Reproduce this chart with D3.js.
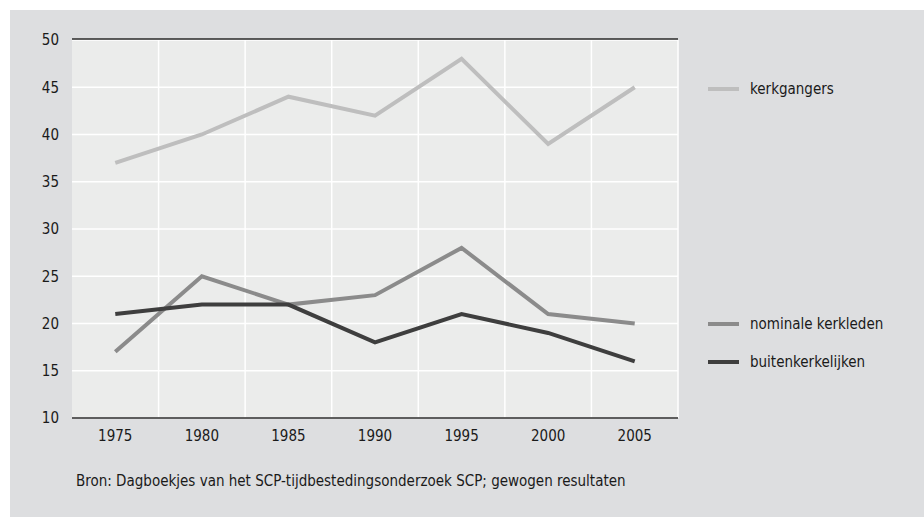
<!doctype html>
<html>
<head>
  <meta charset="UTF-8">
  <title>Kerkgangers</title>
  <script src="https://d3js.org/d3.v7.min.js"></script>
  <style>
    body { margin: 0; background: #ffffff; }
    text { font-family: "Liberation Sans Narrow", "DejaVu Sans Condensed", "Liberation Sans", sans-serif; fill: #1a1a1a; }
  </style>
</head>
<body>
  <div id="svg_area"></div>
</body>
</html>
<script>
// data
var years = ["1975", "1980", "1985", "1990", "1995", "2000", "2005"];
var kerkgangers = [37, 40, 44, 42, 48, 39, 45];
var nominaleKerkleden = [17, 25, 22, 23, 28, 21, 20];
var buitenkerkelijken = [21, 22, 22, 18, 21, 19, 16];
var seriesNames = ["kerkgangers", "nominale kerkleden", "buitenkerkelijken"];
var yTicks = [10, 15, 20, 25, 30, 35, 40, 45, 50];
var bron = "Bron: Dagboekjes van het SCP-tijdbestedingsonderzoek SCP; gewogen resultaten";

var series = [
  { name: seriesNames[0], values: kerkgangers, colour: "#bebebe" },
  { name: seriesNames[1], values: nominaleKerkleden, colour: "#8b8b8b" },
  { name: seriesNames[2], values: buitenkerkelijken, colour: "#3e3e3e" }
];

var svg = d3.select("#svg_area").append("svg")
    .attr("width", 924)
    .attr("height", 517);

// grey panel
svg.append("rect")
    .attr("x", 10).attr("y", 10)
    .attr("width", 914).attr("height", 507)
    .attr("fill", "#dddee0");

var plotLeft = 72, plotRight = 678, plotTop = 40, plotBottom = 418;

var xScale = d3.scaleBand().domain(years).range([plotLeft, plotRight]);
var yScale = d3.scaleLinear().domain([10, 50]).range([plotBottom, plotTop]);

// plot area
svg.append("rect")
    .attr("x", plotLeft).attr("y", plotTop)
    .attr("width", plotRight - plotLeft).attr("height", plotBottom - plotTop)
    .attr("fill", "#ebeceb");

// horizontal gridlines
svg.append("g").selectAll("line")
    .data(yTicks)
    .enter().append("line")
    .attr("x1", plotLeft).attr("x2", plotRight)
    .attr("y1", function(d){ return yScale(d); })
    .attr("y2", function(d){ return yScale(d); })
    .attr("stroke", "#ffffff")
    .attr("stroke-width", 1.5);

// vertical gridlines between years
var bounds = years.slice(1).map(function(y){ return xScale(y); }).concat([plotRight]);
svg.append("g").selectAll("line")
    .data(bounds)
    .enter().append("line")
    .attr("x1", function(d){ return d; }).attr("x2", function(d){ return d; })
    .attr("y1", plotTop).attr("y2", plotBottom)
    .attr("stroke", "#ffffff")
    .attr("stroke-width", 1.5);

// top and bottom black lines
svg.append("line")
    .attr("x1", plotLeft).attr("x2", plotRight)
    .attr("y1", plotTop - 1).attr("y2", plotTop - 1)
    .attr("stroke", "#2a2a2a").attr("stroke-width", 1.5);
svg.append("line")
    .attr("x1", plotLeft).attr("x2", plotRight)
    .attr("y1", plotBottom).attr("y2", plotBottom)
    .attr("stroke", "#2a2a2a").attr("stroke-width", 1.5);

// y axis labels
var yAxis = d3.axisLeft(yScale).tickValues(yTicks).tickSize(0).tickPadding(0);
var yg = svg.append("g")
    .attr("transform", "translate(" + (plotLeft - 13) + ",0)")
    .call(yAxis);
yg.select(".domain").remove();
yg.selectAll("text").attr("font-size", "15px").attr("fill", "#1a1a1a");

// x axis labels
var xAxis = d3.axisBottom(xScale).tickSize(0).tickPadding(0);
var xg = svg.append("g")
    .attr("transform", "translate(0," + (plotBottom + 12) + ")")
    .call(xAxis);
xg.select(".domain").remove();
xg.selectAll("text").attr("font-size", "15px").attr("fill", "#1a1a1a");

// lines
var line = d3.line()
    .x(function(d, i){ return xScale(years[i]) + xScale.bandwidth() / 2; })
    .y(function(d){ return yScale(d); });

svg.append("g").selectAll("path")
    .data(series)
    .enter().append("path")
    .attr("d", function(s){ return line(s.values); })
    .attr("fill", "none")
    .attr("stroke", function(s){ return s.colour; })
    .attr("stroke-width", 4)
    .attr("stroke-linejoin", "miter");

// legend
var legendY = [89, 324, 362];
var legend = svg.append("g").selectAll("g")
    .data(series)
    .enter().append("g")
    .attr("transform", function(d, i){ return "translate(708," + legendY[i] + ")"; });
legend.append("line")
    .attr("x1", 0).attr("x2", 31)
    .attr("stroke", function(d){ return d.colour; })
    .attr("stroke-width", 4);
legend.append("text")
    .attr("x", 42).attr("dy", "0.35em")
    .attr("font-size", "15px")
    .text(function(d){ return d.name; });

// source
svg.append("text")
    .attr("x", 76).attr("y", 486)
    .attr("font-size", "15px")
    .text(bron);
</script>
